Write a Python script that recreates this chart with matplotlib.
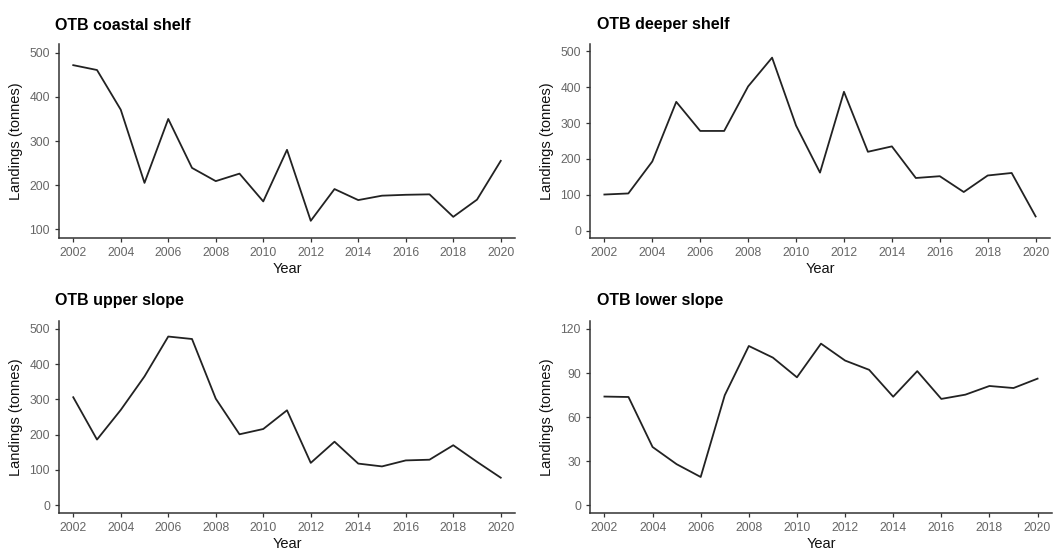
import matplotlib
matplotlib.use('Agg')
import matplotlib.pyplot as plt

plt.rcParams['font.family'] = ['Liberation Sans', 'DejaVu Sans']

years = list(range(2002, 2021))
coastal_shelf = [472, 461, 371, 205, 350, 239, 209, 226, 163, 280,
                 119, 191, 166, 176, 178, 179, 128, 167, 255]
deeper_shelf = [101, 104, 193, 359, 278, 278, 402, 482, 293, 162,
                387, 220, 235, 147, 152, 108, 154, 161, 40]
upper_slope = [306, 186, 270, 365, 478, 471, 302, 201, 216, 269,
               120, 180, 118, 110, 127, 129, 170, 123, 78]
lower_slope = [74, 73.7, 39.7, 28, 19.3, 74.9, 108.4, 100.5, 87.1, 110,
               98.5, 92.2, 73.9, 91.3, 72.4, 75.3, 81.2, 79.8, 86.2]

titles = ['OTB coastal shelf', 'OTB deeper shelf', 'OTB upper slope', 'OTB lower slope']
series = [coastal_shelf, deeper_shelf, upper_slope, lower_slope]
yticks = [[100, 200, 300, 400, 500], [0, 100, 200, 300, 400, 500],
          [0, 100, 200, 300, 400, 500], [0, 30, 60, 90, 120]]
ylims = [(80, 520), (-20, 520), (-22, 522), (-5.2, 125.4)]

W, H = 1063, 551
fig = plt.figure(figsize=(W / 100, H / 100), dpi=100)

# axes boxes in pixels: left, top, right, bottom
boxes = [(59, 44, 515, 238), (590, 44, 1050, 238),
         (59, 321, 515, 513), (590, 321, 1052, 513)]
title_pos = [(55, 25), (597, 25), (55, 300), (597, 301)]

for i in range(4):
    l, t, r, b = boxes[i]
    ax = fig.add_axes([l / W, 1 - b / H, (r - l) / W, (b - t) / H])
    ax.plot(years, series[i], color='#222222', lw=1.3)
    ax.set_xlim(2001.4, 2020.6)
    ax.set_ylim(*ylims[i])
    ax.set_xticks(range(2002, 2021, 2))
    ax.set_yticks(yticks[i])
    for s in ['top', 'right']:
        ax.spines[s].set_visible(False)
    for s in ['left', 'bottom']:
        ax.spines[s].set_color('#333333')
        ax.spines[s].set_linewidth(1.1)
    ax.tick_params(colors='#333333', labelcolor='#666666', labelsize=8.7,
                   length=3, width=0.9)
    ax.set_xlabel('Year', fontsize=10.5, color='#111111', labelpad=2)
    ax.set_ylabel('Landings (tonnes)', fontsize=10.5, color='#111111', labelpad=5)
    tx, ty = title_pos[i]
    fig.text(tx / W, 1 - ty / H, titles[i], fontsize=11.5, fontweight='bold',
             ha='left', va='center')

fig.savefig('out.png', dpi=100)
